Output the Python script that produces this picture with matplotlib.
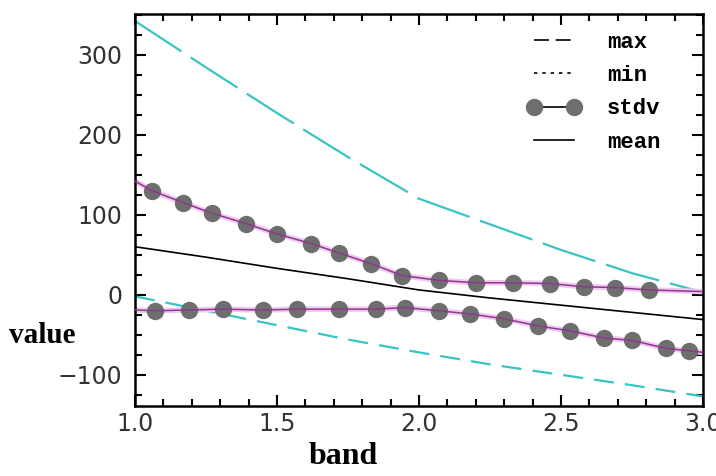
import matplotlib
matplotlib.use("Agg")
import matplotlib.pyplot as plt
from matplotlib.lines import Line2D
from matplotlib.ticker import MultipleLocator

# data
band = [1.0, 1.25, 1.5, 1.75, 2.0, 2.25, 2.5, 2.75, 3.0]
max_val = [342, 284, 227, 172, 120, 88, 56, 27, 3]
min_val = [-2, -20, -38, -56, -72, -87, -100, -113, -127]
mean_val = [60, 47, 33, 20, 6, -4, -13, -22, -31]

# stdv upper / lower: first and last points are the line ends (no marker)
stdv_hi_x = [1.0, 1.06, 1.17, 1.27, 1.39, 1.50, 1.62, 1.72, 1.83, 1.94, 2.07,
             2.20, 2.33, 2.46, 2.58, 2.69, 2.81, 3.0]
stdv_hi_y = [142, 130, 115, 102, 89, 76, 64, 52, 39, 24, 18, 15, 15, 14, 10,
             9, 6, 4]
stdv_lo_x = [1.0, 1.07, 1.19, 1.31, 1.45, 1.57, 1.72, 1.85, 1.95, 2.07, 2.18,
             2.30, 2.42, 2.53, 2.65, 2.75, 2.87, 2.95, 3.0]
stdv_lo_y = [-19, -20, -19, -18, -19, -18, -18, -18, -16, -20, -24, -30, -39,
             -45, -54, -57, -67, -70, -72]

cyan = '#38c4c4'
purple = '#8a3a8a'
dot_gray = '#6e6e6e'

fig = plt.figure(figsize=(7.16, 4.76), dpi=100)
ax = fig.add_axes([0.1885, 0.147, 0.7935, 0.824])

ax.plot(band, max_val, color=cyan, lw=1.6, dashes=(25, 5))
ax.plot(band, min_val, color=cyan, lw=1.6, dashes=(9, 5))
ax.plot(band, mean_val, color='black', lw=1.2)

for xs, ys in [(stdv_hi_x, stdv_hi_y), (stdv_lo_x, stdv_lo_y)]:
    ax.plot(xs[1:-1], ys[1:-1], 'o', ms=12.5, color=dot_gray, mec='none', zorder=3)
    ax.plot(xs, ys, color='#f2c8f2', lw=4, zorder=2)
    ax.plot(xs, ys, color=purple, lw=1.1, zorder=4)

ax.set_xlim(1.0, 3.0)
ax.set_ylim(-139, 351)
ax.xaxis.set_minor_locator(MultipleLocator(0.1))
ax.yaxis.set_minor_locator(MultipleLocator(25))
ax.set_xticks([1.0, 1.5, 2.0, 2.5, 3.0])
ax.set_xticklabels(['1.0', '1.5', '2.0', '2.5', '3.0'])
ax.set_yticks([-100, 0, 100, 200, 300])
ax.set_yticklabels(['\u2212100', '0', '100', '200', '300'])

ax.tick_params(which='both', direction='in', top=True, right=True,
               width=1.5, colors='black', labelcolor='#333333')
ax.tick_params(which='major', length=8)
ax.tick_params(which='minor', length=5)
ax.tick_params(axis='both', labelsize=17)
ax.tick_params(axis='x', pad=4)
ax.tick_params(axis='y', pad=9)
for sp in ax.spines.values():
    sp.set_linewidth(1.8)

fig.text(0.013, 0.296, 'value', family='Liberation Serif', weight='bold',
         fontsize=21, va='center', ha='left')
fig.text(0.48, 0.042, 'band', family='Liberation Serif', weight='bold',
         fontsize=23, va='center', ha='center')

handles = [
    Line2D([], [], color='black', lw=1.2, dashes=(9, 4)),
    Line2D([], [], color='black', lw=1.2, dashes=(2, 3)),
    Line2D([], [], color='black', lw=1.2, marker='o', ms=12.5,
           mfc=dot_gray, mec='none'),
    Line2D([], [], color='black', lw=1.2),
]
leg = ax.legend(handles, ['max', 'min', 'stdv', 'mean'], loc='upper right',
                bbox_to_anchor=(0.96, 1.005), frameon=False, numpoints=2,
                handlelength=2.4, handletextpad=1.2, labelspacing=0.55,
                prop={'family': 'Liberation Mono', 'weight': 'bold', 'size': 16})

fig.savefig('out.png', dpi=100, facecolor='white')
